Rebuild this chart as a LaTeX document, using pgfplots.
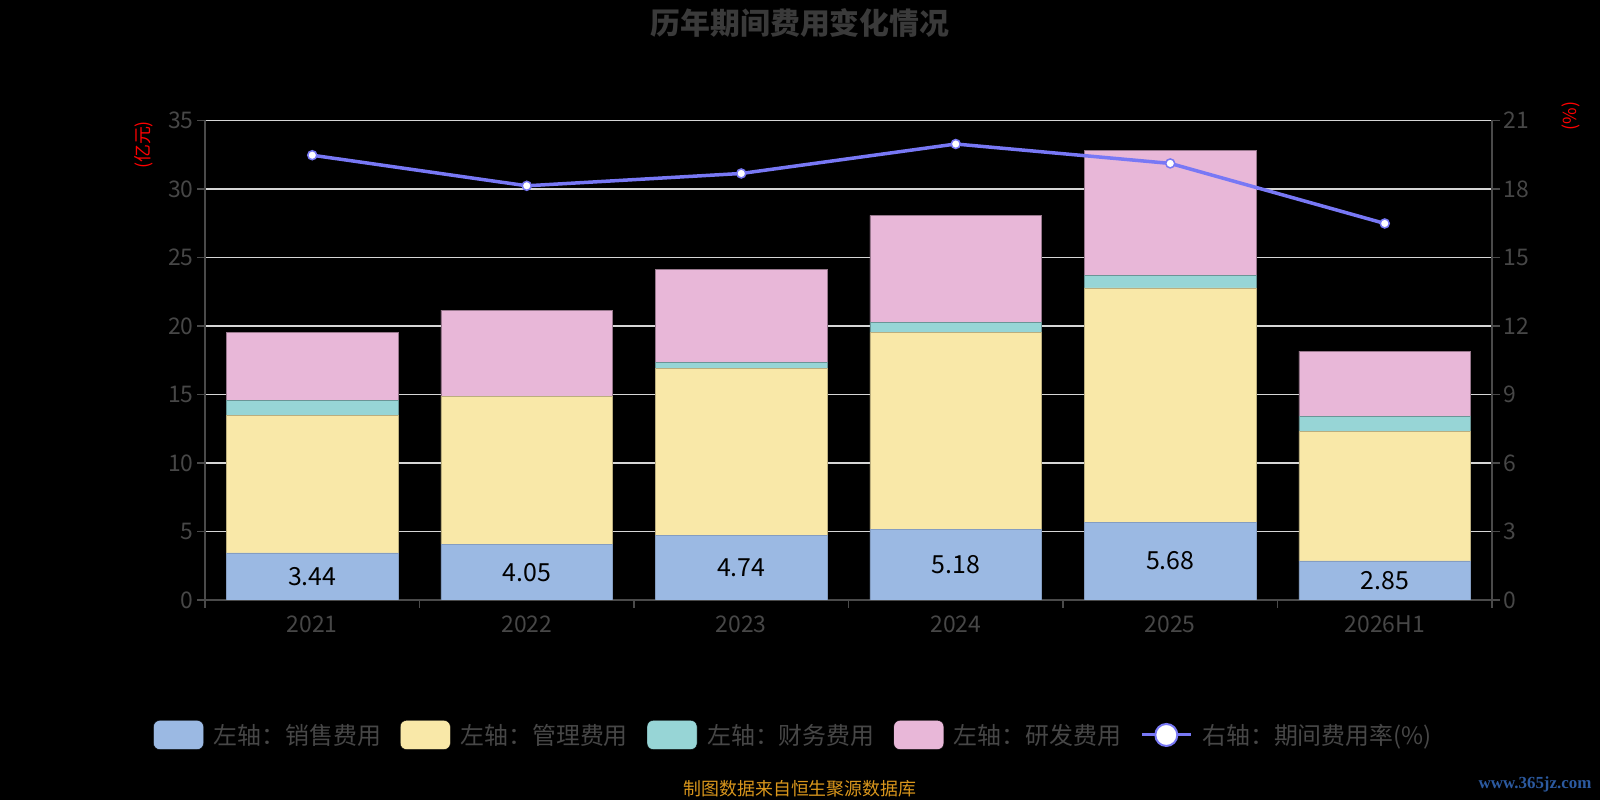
\documentclass[border=0pt]{standalone}
\usepackage{fontspec}
\setmainfont{Noto Sans CJK SC}
\newfontfamily\wmfont{Liberation Serif}
\usepackage{pgfplots}
\usepackage{pgfplotstable}
\pgfplotsset{compat=1.18}

\definecolor{cBlue}{HTML}{9BB9E3}
\definecolor{cYellow}{HTML}{F9E8A8}
\definecolor{cTeal}{HTML}{97D5D6}
\definecolor{cPink}{HTML}{E8B7D8}
\definecolor{cLine}{HTML}{7878F5}
\definecolor{cTick}{HTML}{474747}
\definecolor{cAxis}{HTML}{4A4A4A}
\definecolor{cGrid}{HTML}{D6D6D6}
\definecolor{cTitle}{HTML}{3A3A3A}
\definecolor{cSrc}{HTML}{D9961C}
\definecolor{cWm}{HTML}{2C5AA0}

\pgfplotstableread{
x blue yellow teal pink rate
0 3.44 10.04 1.11 4.92 19.48
1 4.05 10.84 0.00 6.26 18.14
2 4.74 12.16 0.45 6.77 18.68
3 5.18 14.33 0.74 7.82 19.97
4 5.68 17.10 0.90 9.16 19.12
5 2.85 9.44 1.11 4.77 16.49
}\data

\pgfplotsset{
  base/.style={
    scale only axis, at={(205bp,200bp)}, anchor=south west,
    width=1287bp, height=479.5bp,
    xmin=-0.5, xmax=5.5,
    tick align=outside, major tick length=8bp,
    tick style={cAxis, line width=1.2bp},
    axis line style={-, cAxis, line width=1.5bp},
    ticklabel style={font=\fontsize{23}{23}\selectfont, text=cTick},
    /pgf/number format/assume math mode=true,
  },
}

\begin{document}
\begin{tikzpicture}
\path[use as bounding box, fill=black] (0,0) rectangle (1600bp,800bp);

\begin{axis}[base,
  ymin=0, ymax=35, ytick={0,5,...,35},
  ybar stacked, bar width=0.8,
  axis x line*=bottom, axis y line*=left,
  xtick={-0.5,0.5,...,5.5}, xticklabels={,,,,,,,},
  extra x ticks={0,1,2,3,4,5},
  extra x tick labels={2021,2022,2023,2024,2025,2026H1},
  extra x tick style={major tick length=0pt, xticklabel style={yshift=-12bp}},
  ymajorgrids, grid style={cGrid, line width=1.5bp},
]
\addplot[fill=cBlue, draw=cBlue!85!black, line width=0.6bp] table[x=x,y=blue]{\data};
\addplot[fill=cYellow, draw=cYellow!75!black, line width=0.6bp] table[x=x,y=yellow]{\data};
\addplot[fill=cTeal, draw=cTeal!70!black, line width=0.6bp] table[x=x,y=teal]{\data};
\addplot[fill=cPink, draw=cPink!65!black, line width=0.8bp] table[x=x,y=pink]{\data};
\end{axis}

\begin{axis}[base, hide axis, ymin=0, ymax=35]
\addplot[draw=none, mark=none, point meta=explicit,
  nodes near coords={\pgfmathprintnumber[fixed,fixed zerofill,precision=2]{\pgfplotspointmeta}},
  nodes near coords style={anchor=center, font=\fontsize{25}{25}\selectfont, text=black}]
  table[x=x, y expr=\thisrow{blue}/2, meta=blue]{\data};
\end{axis}

\begin{axis}[base,
  ymin=0, ymax=21, ytick={0,3,...,21},
  axis y line*=right, axis x line=none,
  legend columns=-1,
  legend style={draw=none, fill=none, at={(0.4573,-0.2815)}, anchor=center,
    font=\fontsize{24}{24}\selectfont, text=cTick,
    /tikz/every odd column/.append style={column sep=8bp},
    /tikz/every even column/.append style={column sep=17bp}},
  barleg/.style={legend image code/.code={\fill[##1, rounded corners=6bp] (0bp,-14.5bp) rectangle (50bp,14.5bp);}},
]
\addlegendimage{barleg, fill=cBlue}
\addlegendentry{左轴：销售费用}
\addlegendimage{barleg, fill=cYellow}
\addlegendentry{左轴：管理费用}
\addlegendimage{barleg, fill=cTeal}
\addlegendentry{左轴：财务费用}
\addlegendimage{barleg, fill=cPink}
\addlegendentry{左轴：研发费用}
\addplot[cLine, line width=3.5bp, mark=*, mark size=4.5bp,
  mark options={fill=white, draw=cLine, line width=1.5bp},
  legend image code/.code={\draw[cLine, line width=3bp] (0bp,0bp) -- (49bp,0bp);
    \draw[cLine, fill=white, line width=2bp] (24.5bp,0bp) circle (11bp);}]
  table[x=x,y=rate]{\data};
\addlegendentry{右轴：期间费用率(\%)}
\end{axis}

\node[font=\fontsize{30}{30}\selectfont\bfseries, text=cTitle] at (800bp,777bp) {历年期间费用变化情况};
\node[font=\fontsize{18}{18}\selectfont, text=red, rotate=90] at (143.5bp,655bp) {(亿元)};
\node[font=\fontsize{18}{18}\selectfont, text=red, rotate=90] at (1571bp,684bp) {(\%)};
\node[font=\fontsize{18}{18}\selectfont, text=cSrc] at (800bp,11bp) {制图数据来自恒生聚源数据库};
\node[font=\wmfont\bfseries\fontsize{17}{17}\selectfont, text=cWm] at (1535bp,16bp) {www.365jz.com};
\end{tikzpicture}
\end{document}
